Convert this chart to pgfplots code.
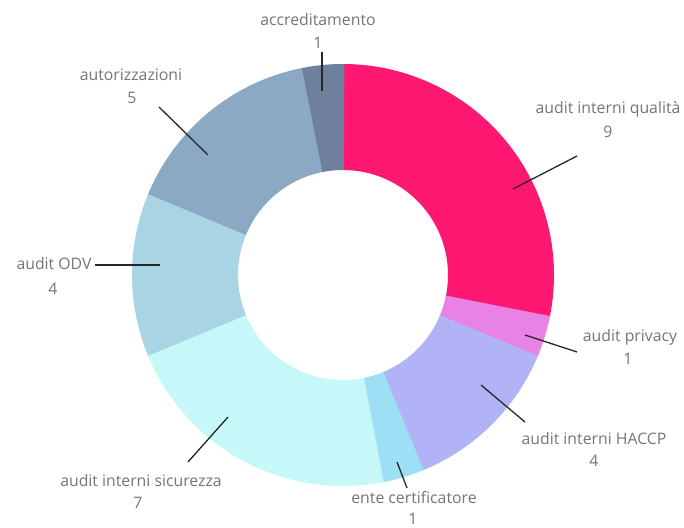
\documentclass[border=0pt]{standalone}
\usepackage{pgfplots}
\pgfplotsset{compat=1.18}
\usepackage{fontspec}
\setmainfont{Open Sans}
\definecolor{cQual}{HTML}{FF1872}
\definecolor{cPriv}{HTML}{E882E4}
\definecolor{cHaccp}{HTML}{B2B2F7}
\definecolor{cEnte}{HTML}{9DDFF5}
\definecolor{cSic}{HTML}{C6F8FA}
\definecolor{cOdv}{HTML}{A8D4E3}
\definecolor{cAut}{HTML}{8CA9C4}
\definecolor{cAcc}{HTML}{6F809C}
\definecolor{txt}{HTML}{757575}
\tikzset{lbl/.style={font=\fontsize{15.8bp}{19bp}\selectfont, text=txt, anchor=base, inner sep=0pt}}
\def\total{32}
\def\cum{0}
\newcommand\slice[2]{%
  \pgfmathsetmacro\angA{90-360*\cum/\total}%
  \pgfmathsetmacro\newcum{\cum+#1}%
  \pgfmathsetmacro\angB{90-360*\newcum/\total-0.4}%
  \global\let\cum\newcum
  \edef\temp{\noexpand\addplot[draw=#2, line width=106bp, line cap=butt, line join=round, domain=\angB:\angA, samples=90] ({343+158*cos(x)},{275-158*sin(x)});}%
  \temp
}
\begin{document}
\begin{tikzpicture}
\begin{axis}[width=684bp, height=528bp, scale only axis,
  xmin=0, xmax=684, ymin=0, ymax=528, y dir=reverse,
  hide axis, clip=false, no markers]
% slices: value, colour
\slice{9}{cQual}
\slice{1}{cPriv}
\slice{4}{cHaccp}
\slice{1}{cEnte}
\slice{7}{cSic}
\slice{4}{cOdv}
\slice{5}{cAut}
\slice{1}{cAcc}
% leader lines
\addplot[black!85, line width=1.3bp] coordinates {(322,52) (322,91)};
\addplot[black!85, line width=1.3bp] coordinates {(159,107) (208,155)};
\addplot[black!85, line width=1.3bp] coordinates {(577,156) (513,189)};
\addplot[black!85, line width=1.3bp] coordinates {(525,335) (577,352)};
\addplot[black!85, line width=1.3bp] coordinates {(481,385) (525,422)};
\addplot[black!85, line width=1.3bp] coordinates {(397,462) (407,488)};
\addplot[black!85, line width=1.3bp] coordinates {(228,417) (188,462)};
\addplot[black!85, line width=1.3bp] coordinates {(95,265) (160,265)};
% labels
\node[lbl] at (axis cs:318,26) {accreditamento};
\node[lbl] at (axis cs:318,49) {1};
\node[lbl] at (axis cs:131,81) {autorizzazioni};
\node[lbl] at (axis cs:132,103) {5};
\node[lbl] at (axis cs:608,113) {audit interni qualità};
\node[lbl] at (axis cs:608,137) {9};
\node[lbl] at (axis cs:630,341) {audit privacy};
\node[lbl] at (axis cs:628,364) {1};
\node[lbl] at (axis cs:594,444) {audit interni HACCP};
\node[lbl] at (axis cs:594,466) {4};
\node[lbl] at (axis cs:414,503) {ente certificatore};
\node[lbl] at (axis cs:413,524) {1};
\node[lbl] at (axis cs:141,486) {audit interni sicurezza};
\node[lbl] at (axis cs:138,508) {7};
\node[lbl] at (axis cs:54,269) {audit ODV};
\node[lbl] at (axis cs:53,294) {4};
\end{axis}
\pgfresetboundingbox
\path (current axis.south west) rectangle (current axis.north east);
\end{tikzpicture}
\end{document}
